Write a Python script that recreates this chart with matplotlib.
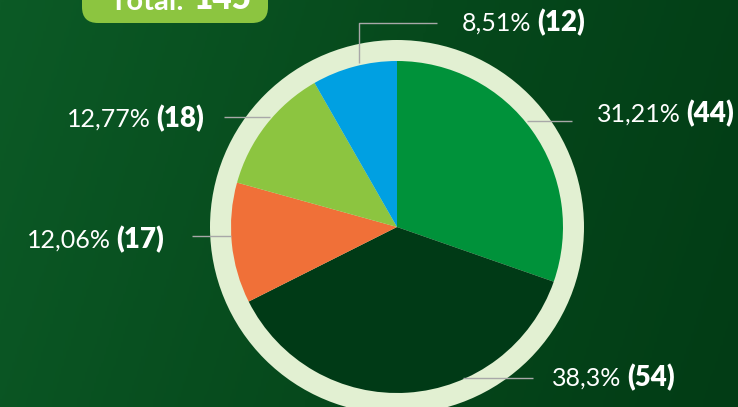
import matplotlib
matplotlib.use('Agg')
import matplotlib.pyplot as plt
import numpy as np
from matplotlib.patches import Circle, FancyBboxPatch
from matplotlib.colors import LinearSegmentedColormap

# ---- data ----
counts = [44, 54, 17, 18, 12]
pct_labels = ['31,21%', '38,3%', '12,06%', '12,77%', '8,51%']
count_labels = ['(44)', '(54)', '(17)', '(18)', '(12)']
colors = ['#00923a', '#003a16', '#f07038', '#8cc540', '#00a0e2']
total_label = 'Total:'
total_value = '145'

W, H = 738, 407
fig = plt.figure(figsize=(7.38, 4.07), dpi=100)
ax = fig.add_axes([0, 0, 1, 1])


def Y(py):
    return H - py


# background gradient
cmap = LinearSegmentedColormap.from_list('bg', ['#0c5a26', '#06491c', '#023c15'])
gx = np.linspace(0, 1, 300)
gy = np.linspace(0, 1, 100)
G = gx[None, :] * 0.85 + gy[:, None] * 0.15
ax.imshow(G, cmap=cmap, extent=(0, W, 0, H), aspect='auto', zorder=0, origin='upper')

# ring
cx, cy = 397, 227
ax.add_patch(Circle((cx, Y(cy)), 187, facecolor='#e2f0d2', edgecolor='none', zorder=1))

ax.pie(counts, colors=colors, startangle=90, counterclock=False,
       center=(cx, Y(cy)), radius=166, wedgeprops=dict(linewidth=0, zorder=2))

# leader lines and labels (order: green, dark, orange, light green, blue)
leaders = [
    [(527, 121), (572, 121)],
    [(463, 378), (533, 378)],
    [(192, 236), (231, 236)],
    [(224, 117), (270, 117)],
    [(359, 63), (359, 23), (437, 23)],
]
text_pos = [(597, 114), (552, 378), (27, 240), (67, 119), (462, 23)]

FONT = 'Lato'
for pts, (tx, ty), p, c in zip(leaders, text_pos, pct_labels, count_labels):
    xs = [q[0] for q in pts]
    ys = [Y(q[1]) for q in pts]
    ax.plot(xs, ys, color='#a8a8a8', lw=1.0, zorder=3, solid_capstyle='butt')
    t = ax.text(tx, Y(ty), p, color='white', fontsize=18, family=FONT,
                weight='normal', ha='left', va='center', zorder=4)
    ax.annotate(c, xy=(1, 0.5), xycoords=t, xytext=(4, 0), textcoords='offset points',
                color='white', fontsize=20, family=FONT, weight='heavy',
                ha='left', va='center', zorder=4)

# total box
ax.add_patch(FancyBboxPatch((82 + 16, Y(23) + 16), 186 - 32, 60,
                            boxstyle='round,pad=16', facecolor='#8cc540',
                            edgecolor='none', zorder=3))
t1 = ax.text(110, Y(10), total_label, color='white', fontsize=21, family=FONT,
             weight='bold', ha='left', va='baseline', zorder=4)
ax.annotate(total_value, xy=(1, 0), xycoords=t1, xytext=(6, 0), textcoords='offset points',
            color='white', fontsize=24, family=FONT, weight='heavy',
            ha='left', va='bottom', zorder=4)

ax.set_xlim(0, W)
ax.set_ylim(0, H)
ax.set_aspect('equal')
ax.axis('off')
fig.savefig('out.png', dpi=100)
